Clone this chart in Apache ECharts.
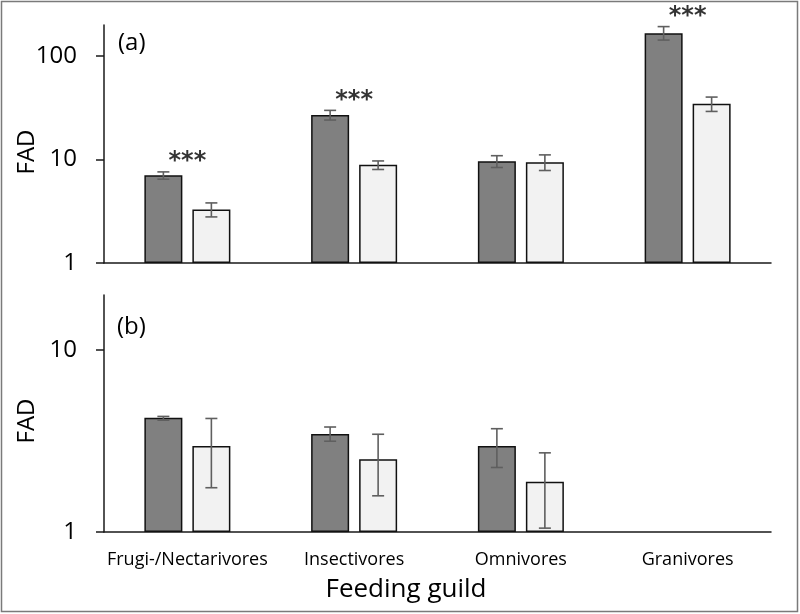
<!DOCTYPE html>
<html>
<head>
<meta charset="utf-8">
<script src="https://cdn.jsdelivr.net/npm/echarts@6/dist/echarts.min.js"></script>
<style>html,body{margin:0;padding:0;background:#fff}#c{width:800px;height:614px}</style>
</head>
<body>
<div id="c"></div>
<script>
const categories = ['Frugi-/Nectarivores', 'Insectivores', 'Omnivores', 'Granivores'];
const yTicks = [1, 10, 100];
const yTicksB = [1, 10];

// Panel (a)
const aDark   = [7.06, 26.9, 9.65, 166];
const aDarkLo = [6.46, 24.1, 8.38, 143];
const aDarkHi = [7.6, 29.9, 10.9, 193];
const aLight   = [3.29, 8.89, 9.44, 34.6];
const aLightLo = [2.79, 8.02, 7.84, 29.2];
const aLightHi = [3.81, 9.7, 11.1, 40.2];
const aSig = ['***', '***', '', '***'];

// Panel (b)
const bDark   = [4.24, 3.45, 2.97, null];
const bDarkLo = [4.11, 3.15, 2.26, null];
const bDarkHi = [4.31, 3.77, 3.69, null];
const bLight   = [2.97, 2.51, 1.89, null];
const bLightLo = [1.75, 1.58, 1.05, null];
const bLightHi = [4.2, 3.44, 2.72, null];

const FONT = 'Open Sans';
const BAR_W = 38, GAP = 10;
const OFF = (BAR_W + GAP) / 2;

function errData(lo, hi) {
  const out = [];
  for (let i = 0; i < categories.length; i++) {
    if (lo[i] != null) out.push([i, lo[i], hi[i]]);
  }
  return out;
}
function errSeries(lo, hi, axisIdx, offset) {
  return {
    type: 'custom', xAxisIndex: axisIdx, yAxisIndex: axisIdx, z: 5,
    data: errData(lo, hi),
    renderItem: function (params, api) {
      const top = api.coord([api.value(0), api.value(2)]);
      const bot = api.coord([api.value(0), api.value(1)]);
      const x = top[0] + offset, hw = 6;
      const st = { stroke: '#5f5f5f', lineWidth: 1.6 };
      return { type: 'group', children: [
        { type: 'line', shape: { x1: x, y1: top[1], x2: x, y2: bot[1] }, style: st },
        { type: 'line', shape: { x1: x - hw, y1: top[1], x2: x + hw, y2: top[1] }, style: st },
        { type: 'line', shape: { x1: x - hw, y1: bot[1], x2: x + hw, y2: bot[1] }, style: st }
      ]};
    }
  };
}
function barSeries(vals, axisIdx, color) {
  return {
    type: 'bar', xAxisIndex: axisIdx, yAxisIndex: axisIdx,
    data: vals.map(v => v == null ? '-' : v),
    barWidth: BAR_W, barGap: (GAP / BAR_W * 100) + '%',
    itemStyle: { color: color, borderColor: '#111', borderWidth: 1.5 },
    silent: true
  };
}

const axisLineStyle = { color: '#1a1a1a', width: 1.5 };
function yAxis(idx, max, ticks) {
  return {
    type: 'log', logBase: 10, gridIndex: idx, min: 1, max: max,
    axisLine: { show: true, lineStyle: axisLineStyle },
    axisTick: { show: true, length: 8, lineStyle: axisLineStyle, customValues: ticks },
    axisLabel: { fontFamily: FONT, fontSize: 24, color: '#000', margin: 27, customValues: ticks },
    splitLine: { show: false }
  };
}
function xAxis(idx, showLabels) {
  return {
    type: 'category', gridIndex: idx, data: categories,
    axisLine: { show: true, lineStyle: axisLineStyle },
    axisTick: { show: false },
    axisLabel: { show: showLabels, fontFamily: FONT, fontSize: 18, color: '#000', margin: 19, interval: 0 }
  };
}

const chart = echarts.init(document.getElementById('c'), null, { renderer: 'canvas' });
chart.setOption({
  animation: false,
  backgroundColor: '#fff',
  grid: [
    { left: 104, right: 29, top: 25, height: 238 },
    { left: 104, right: 29, top: 295, height: 237 }
  ],
  xAxis: [xAxis(0, false), xAxis(1, true)],
  yAxis: [yAxis(0, 200, yTicks), yAxis(1, 20, yTicksB)],
  series: [
    barSeries(aDark, 0, '#808080'),
    barSeries(aLight, 0, '#f2f2f2'),
    errSeries(aDarkLo, aDarkHi, 0, -OFF),
    errSeries(aLightLo, aLightHi, 0, OFF),
    barSeries(bDark, 1, '#808080'),
    barSeries(bLight, 1, '#f2f2f2'),
    errSeries(bDarkLo, bDarkHi, 1, -OFF),
    errSeries(bLightLo, bLightHi, 1, OFF),
    {
      type: 'scatter', xAxisIndex: 0, yAxisIndex: 0, symbolSize: 0, z: 6,
      data: aSig.map((s, i) => s ? { value: [i, aDarkHi[i]], sig: s } : null).filter(d => d),
      label: {
        show: true, position: 'top', distance: -2,
        formatter: p => p.data.sig,
        fontFamily: 'DejaVu Sans', fontSize: 24, fontWeight: 'bold', color: '#000'
      },
      silent: true
    }
  ],
  graphic: [
    { type: 'rect', shape: { x: 1.5, y: 1.5, width: 796, height: 610 }, style: { fill: null, stroke: '#7a7a7a', lineWidth: 1.5 } },
    { type: 'text', x: 118, y: 31, style: { text: '(a)', font: '24px "Open Sans"', fill: '#000' } },
    { type: 'text', x: 117, y: 315, style: { text: '(b)', font: '24px "Open Sans"', fill: '#000' } },
    { type: 'text', x: 27, y: 152, rotation: Math.PI / 2, style: { text: 'FAD', font: '24px "Open Sans"', fill: '#000', align: 'center', verticalAlign: 'middle' } },
    { type: 'text', x: 27, y: 421, rotation: Math.PI / 2, style: { text: 'FAD', font: '24px "Open Sans"', fill: '#000', align: 'center', verticalAlign: 'middle' } },
    { type: 'text', x: 406, y: 590, style: { text: 'Feeding guild', font: '26px "Open Sans"', fill: '#000', align: 'center', verticalAlign: 'middle' } }
  ]
});
</script>
</body>
</html>
